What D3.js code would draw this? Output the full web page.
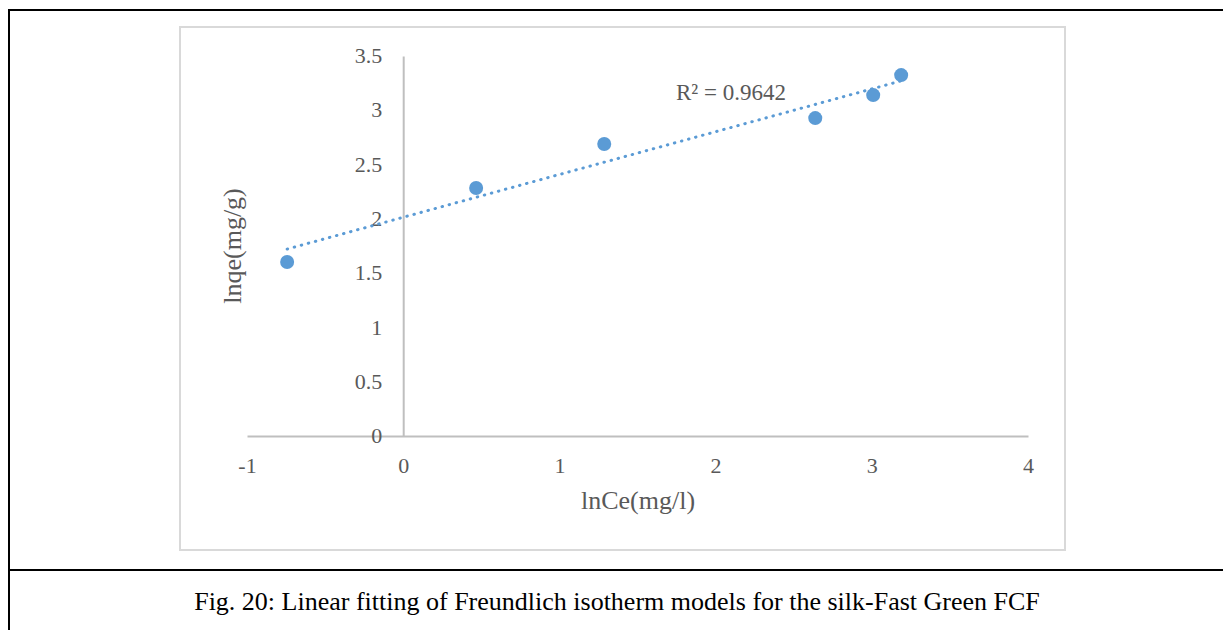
<!DOCTYPE html>
<html>
<head>
<meta charset="utf-8">
<script src="https://cdn.jsdelivr.net/npm/d3@7.9.0/dist/d3.min.js"></script>
<style>
  body { margin: 0; background: #fff; }
  svg { display: block; }
</style>
</head>
<body>
<svg id="chart" width="1223" height="630"></svg>
<script>
// data
const lnCe = [-0.743, 0.467, 1.287, 2.638, 3.009, 3.188];
const lnqe = [1.602, 2.284, 2.689, 2.928, 3.14, 3.324];
const xTicks = [-1, 0, 1, 2, 3, 4];
const yTicks = [0, 0.5, 1, 1.5, 2, 2.5, 3, 3.5];
const rSquared = "R² = 0.9642";
const caption = "Fig. 20: Linear fitting of Freundlich isotherm models for the silk-Fast Green FCF";

const svg = d3.select("#chart");
const blue = "#5b9bd5";
const gray = "#595959";
const serif = "'Liberation Serif', 'Times New Roman', serif";

// outer table frame
svg.append("line").attr("x1", 9).attr("x2", 1223).attr("y1", 10).attr("y2", 10)
  .attr("stroke", "#000").attr("stroke-width", 2);
svg.append("line").attr("x1", 9).attr("x2", 9).attr("y1", 9).attr("y2", 630)
  .attr("stroke", "#000").attr("stroke-width", 2);
svg.append("line").attr("x1", 9).attr("x2", 1223).attr("y1", 570).attr("y2", 570)
  .attr("stroke", "#000").attr("stroke-width", 2);

// chart area border
svg.append("rect").attr("x", 180).attr("y", 27).attr("width", 885).attr("height", 523)
  .attr("fill", "#fff").attr("stroke", "#d9d9d9").attr("stroke-width", 2);

// scales
const x = d3.scaleLinear().domain([-1, 4]).range([247, 1028]);
const y = d3.scaleLinear().domain([0, 3.5]).range([436, 56]);

// axes (lines only, no tick marks)
const xAxis = svg.append("g").attr("transform", `translate(0,${y(0)})`)
  .call(d3.axisBottom(x).tickValues(xTicks).tickSize(0).tickPadding(21).tickFormat(d => String(d)));
const yAxis = svg.append("g").attr("transform", `translate(${x(0)},0)`)
  .call(d3.axisLeft(y).tickValues(yTicks).tickSize(0).tickPadding(21).tickFormat(d => String(d)));

[xAxis, yAxis].forEach(g => {
  g.select(".domain").attr("stroke", "#bfbfbf").attr("stroke-width", 2);
  g.selectAll("text").attr("fill", gray).style("font-family", serif).style("font-size", "22px");
});
yAxis.selectAll("text").attr("dy", "0.3em");

// trendline (least squares through the points)
const mx = d3.mean(lnCe), my = d3.mean(lnqe);
const sxy = d3.sum(lnCe, (v, i) => (v - mx) * (lnqe[i] - my));
const sxx = d3.sum(lnCe, v => (v - mx) ** 2);
const slope = sxy / sxx, icpt = my - slope * mx;
const xr = d3.extent(lnCe);
svg.append("line")
  .attr("x1", x(xr[0])).attr("y1", y(icpt + slope * xr[0]))
  .attr("x2", x(xr[1])).attr("y2", y(icpt + slope * xr[1]))
  .attr("stroke", blue).attr("stroke-width", 3)
  .attr("stroke-linecap", "round").attr("stroke-dasharray", "0.5 6.8");

// points
svg.append("g").selectAll("circle")
  .data(lnCe.map((v, i) => [v, lnqe[i]]))
  .join("circle")
  .attr("cx", d => x(d[0])).attr("cy", d => y(d[1]))
  .attr("r", 7).attr("fill", blue);

// R² label
svg.append("text").attr("x", 676).attr("y", 100)
  .attr("fill", gray).style("font-family", serif).style("font-size", "23px")
  .text(rSquared);

// axis titles
svg.append("text").attr("x", 638).attr("y", 509).attr("text-anchor", "middle")
  .attr("fill", gray).style("font-family", serif).style("font-size", "26px")
  .text("lnCe(mg/l)");
svg.append("text").attr("transform", "translate(241,246) rotate(-90)").attr("text-anchor", "middle")
  .attr("fill", gray).style("font-family", serif).style("font-size", "26px")
  .text("lnqe(mg/g)");

// caption
svg.append("text").attr("x", 617).attr("y", 610).attr("text-anchor", "middle")
  .attr("fill", "#000").style("font-family", serif).style("font-size", "26px")
  .text(caption);
</script>
</body>
</html>
